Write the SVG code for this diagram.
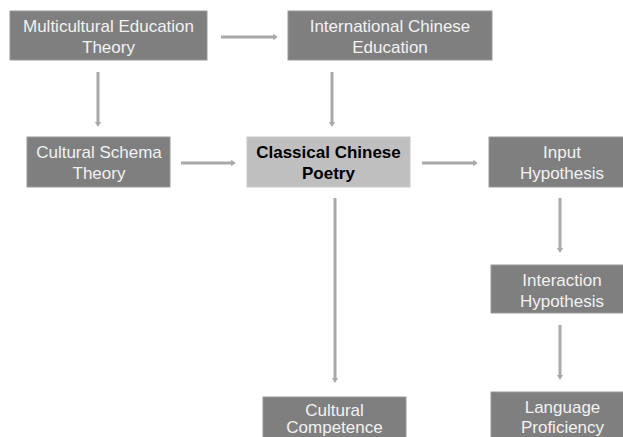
<svg xmlns="http://www.w3.org/2000/svg" width="623" height="437" viewBox="0 0 623 437">
<style>
.box{fill:#7f7f7f;stroke:#9a9a9a;stroke-width:1}
.hl{fill:#bfbfbf;stroke:#c8c8c8;stroke-width:1}
.t{font-family:"Liberation Sans",Arial,sans-serif;font-size:17px;fill:#f2f2f2;text-anchor:middle}
.tb{font-family:"Liberation Sans",Arial,sans-serif;font-size:17px;font-weight:bold;fill:#000;text-anchor:middle}
.c{stroke:#a9a9a9;stroke-width:3;fill:none;marker-end:url(#ah)}
</style>
<defs>
<marker id="ah" markerWidth="3" markerHeight="3" refX="0.3" refY="1.5" orient="auto" markerUnits="strokeWidth">
<path d="M0,0.45 L1.6,1.5 L0,2.55 Z" fill="#a9a9a9"/>
</marker>
</defs>
<rect width="623" height="437" fill="#ffffff"/>
<g id="connectors">
<line class="c" x1="221" y1="37" x2="274" y2="37"/>
<line class="c" x1="98" y1="72" x2="98" y2="123"/>
<line class="c" x1="332" y1="72" x2="332" y2="123"/>
<line class="c" x1="181" y1="163" x2="232" y2="163"/>
<line class="c" x1="422" y1="163" x2="474" y2="163"/>
<line class="c" x1="335" y1="198" x2="335" y2="379"/>
<line class="c" x1="560" y1="198" x2="560" y2="249"/>
<line class="c" x1="560" y1="325" x2="560" y2="376"/>
</g>
<g id="multicultural">
<rect class="box" x="10" y="11" width="197" height="49"/>
<text class="t" x="108.5" y="31.5">Multicultural Education</text>
<text class="t" x="108.5" y="52.5">Theory</text>
</g>
<g id="international">
<rect class="box" x="288" y="11" width="204" height="49"/>
<text class="t" x="390" y="31.5">International Chinese</text>
<text class="t" x="390" y="52.5">Education</text>
</g>
<g id="schema">
<rect class="box" x="27" y="137" width="143" height="50"/>
<text class="t" x="99" y="157.5">Cultural Schema</text>
<text class="t" x="99" y="178.5">Theory</text>
</g>
<g id="poetry">
<rect class="hl" x="247" y="137" width="163" height="50"/>
<text class="tb" x="328.5" y="157.5">Classical Chinese</text>
<text class="tb" x="328.5" y="178.5">Poetry</text>
</g>
<g id="input">
<rect class="box" x="489" y="137" width="146" height="50"/>
<text class="t" x="562" y="157.5">Input</text>
<text class="t" x="562" y="178.5">Hypothesis</text>
</g>
<g id="interaction">
<rect class="box" x="491" y="265" width="144" height="48"/>
<text class="t" x="562" y="285.5">Interaction</text>
<text class="t" x="562" y="306.5">Hypothesis</text>
</g>
<g id="competence">
<rect class="box" x="263" y="397" width="143" height="50"/>
<text class="t" x="334.5" y="415.5">Cultural</text>
<text class="t" x="334.5" y="433">Competence</text>
</g>
<g id="proficiency">
<rect class="box" x="491" y="392" width="144" height="50"/>
<text class="t" x="562.5" y="412.5">Language</text>
<text class="t" x="562.5" y="433">Proficiency</text>
</g>
</svg>
